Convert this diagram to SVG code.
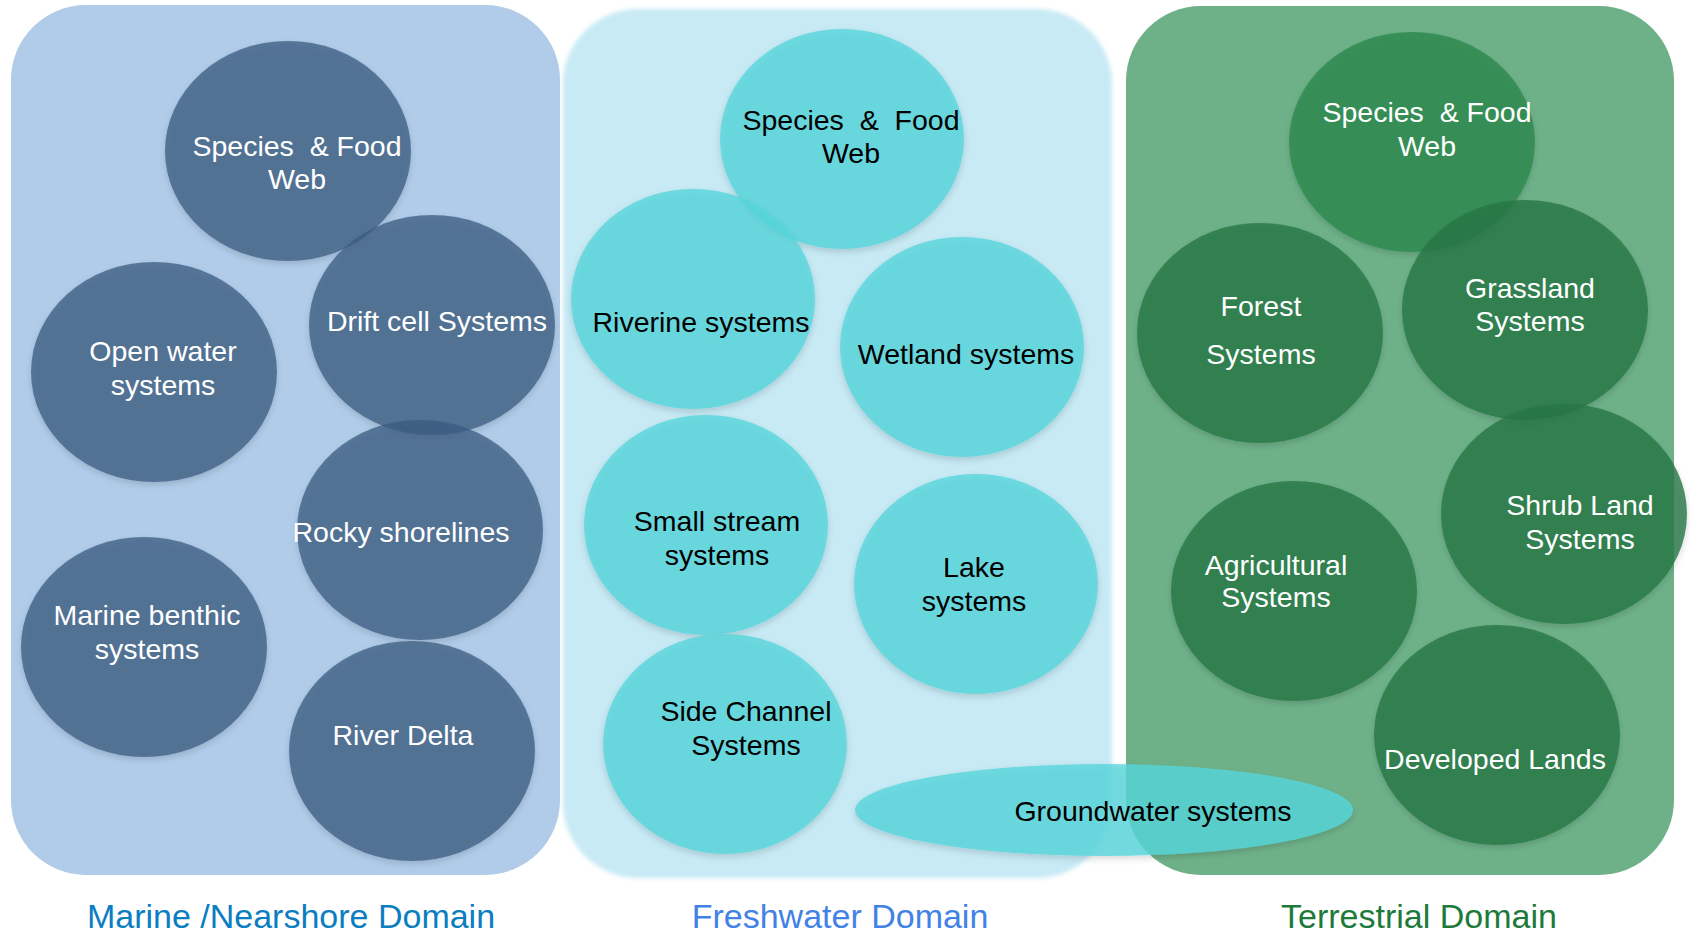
<svg xmlns="http://www.w3.org/2000/svg" width="1690" height="934" viewBox="0 0 1690 934">
  <style>
    .lbl { font-family: "Liberation Sans", Arial, sans-serif; font-size: 28.5px; text-anchor: middle; }
    .w { fill: #ffffff; }
    .k { fill: #000000; }
    .dom { font-family: "Liberation Sans", Arial, sans-serif; font-size: 34px; text-anchor: middle; }
    .mc { fill: #385c80; fill-opacity: 0.75; filter: url(#sh); }
    .fc { fill: #55d6db; fill-opacity: 0.8; filter: url(#sh); }
    .tc { fill: #267645; fill-opacity: 0.8; filter: url(#sh); }
  </style>
  <defs>
    <filter id="sh" x="-10%" y="-10%" width="120%" height="125%">
      <feDropShadow dx="0" dy="3" stdDeviation="3" flood-color="#000000" flood-opacity="0.18"/>
    </filter>
    <filter id="soft" x="-5%" y="-5%" width="110%" height="110%">
      <feGaussianBlur stdDeviation="2"/>
    </filter>
  </defs>

  <!-- Domain panels -->
  <g id="panel-marine">
    <rect x="11" y="5" width="549" height="870" rx="75" fill="#b0cce9"/>
  </g>
  <g id="panel-freshwater">
    <rect x="563" y="9" width="549" height="869" rx="75" fill="#c7eaf5" filter="url(#soft)"/>
  </g>
  <g id="panel-terrestrial">
    <rect x="1126" y="6" width="548" height="869" rx="75" fill="#6eb189"/>
  </g>

  <g id="connectors"></g>

  <!-- Marine nodes -->
  <g id="marine-species">
    <ellipse class="mc" cx="288" cy="151" rx="123" ry="110"/>
    <text class="lbl w" x="297" y="156" xml:space="preserve">Species  &amp; Food</text>
    <text class="lbl w" x="297" y="189">Web</text>
  </g>
  <g id="marine-drift">
    <ellipse class="mc" cx="432" cy="325" rx="123" ry="110"/>
    <text class="lbl w" x="437" y="331">Drift cell Systems</text>
  </g>
  <g id="marine-openwater">
    <ellipse class="mc" cx="154" cy="372" rx="123" ry="110"/>
    <text class="lbl w" x="163" y="361">Open water</text>
    <text class="lbl w" x="163" y="395">systems</text>
  </g>
  <g id="marine-rocky">
    <ellipse class="mc" cx="420" cy="530" rx="123" ry="110"/>
    <text class="lbl w" x="401" y="542">Rocky shorelines</text>
  </g>
  <g id="marine-benthic">
    <ellipse class="mc" cx="144" cy="647" rx="123" ry="110"/>
    <text class="lbl w" x="147" y="625">Marine benthic</text>
    <text class="lbl w" x="147" y="659">systems</text>
  </g>
  <g id="marine-delta">
    <ellipse class="mc" cx="412" cy="751" rx="123" ry="110"/>
    <text class="lbl w" x="403" y="745">River Delta</text>
  </g>

  <!-- Freshwater nodes -->
  <g id="fresh-species">
    <ellipse class="fc" cx="842" cy="139" rx="122" ry="110"/>
    <text class="lbl k" x="851" y="130" xml:space="preserve">Species  &amp;  Food</text>
    <text class="lbl k" x="851" y="163">Web</text>
  </g>
  <g id="fresh-riverine">
    <ellipse class="fc" cx="693" cy="299" rx="122" ry="110"/>
    <text class="lbl k" x="701" y="332">Riverine systems</text>
  </g>
  <g id="fresh-wetland">
    <ellipse class="fc" cx="962" cy="347" rx="122" ry="110"/>
    <text class="lbl k" x="966" y="364">Wetland systems</text>
  </g>
  <g id="fresh-smallstream">
    <ellipse class="fc" cx="706" cy="525" rx="122" ry="110"/>
    <text class="lbl k" x="717" y="531">Small stream</text>
    <text class="lbl k" x="717" y="565">systems</text>
  </g>
  <g id="fresh-lake">
    <ellipse class="fc" cx="976" cy="584" rx="122" ry="110"/>
    <text class="lbl k" x="974" y="577">Lake</text>
    <text class="lbl k" x="974" y="611">systems</text>
  </g>
  <g id="fresh-sidechannel">
    <ellipse class="fc" cx="725" cy="744" rx="122" ry="110"/>
    <text class="lbl k" x="746" y="721">Side Channel</text>
    <text class="lbl k" x="746" y="755">Systems</text>
  </g>
  <g id="fresh-groundwater">
    <ellipse class="fc" cx="1104" cy="810" rx="249" ry="46"/>
    <text class="lbl k" x="1153" y="821">Groundwater systems</text>
  </g>

  <!-- Terrestrial nodes -->
  <g id="terr-species">
    <ellipse cx="1412" cy="142" rx="123" ry="110" fill="#2a8a4e" fill-opacity="0.8" filter="url(#sh)"/>
    <text class="lbl w" x="1427" y="122" xml:space="preserve">Species  &amp; Food</text>
    <text class="lbl w" x="1427" y="156">Web</text>
  </g>
  <g id="terr-forest">
    <ellipse class="tc" cx="1260" cy="333" rx="123" ry="110"/>
    <text class="lbl w" x="1261" y="316">Forest</text>
    <text class="lbl w" x="1261" y="364">Systems</text>
  </g>
  <g id="terr-grassland">
    <ellipse class="tc" cx="1525" cy="310" rx="123" ry="110"/>
    <text class="lbl w" x="1530" y="298">Grassland</text>
    <text class="lbl w" x="1530" y="331">Systems</text>
  </g>
  <g id="terr-shrub">
    <ellipse class="tc" cx="1564" cy="514" rx="123" ry="110"/>
    <text class="lbl w" x="1580" y="515">Shrub Land</text>
    <text class="lbl w" x="1580" y="549">Systems</text>
  </g>
  <g id="terr-agricultural">
    <ellipse class="tc" cx="1294" cy="591" rx="123" ry="110"/>
    <text class="lbl w" x="1276" y="575">Agricultural</text>
    <text class="lbl w" x="1276" y="607">Systems</text>
  </g>
  <g id="terr-developed">
    <ellipse class="tc" cx="1497" cy="735" rx="123" ry="110"/>
    <text class="lbl w" x="1495" y="769">Developed Lands</text>
  </g>

  <!-- Domain labels -->
  <g id="domain-labels">
    <text class="dom" x="291" y="928" fill="#0b7dc1">Marine /Nearshore Domain</text>
    <text class="dom" x="840" y="928" fill="#4282e6">Freshwater Domain</text>
    <text class="dom" x="1419" y="928" fill="#1c7a3a">Terrestrial Domain</text>
  </g>
</svg>
